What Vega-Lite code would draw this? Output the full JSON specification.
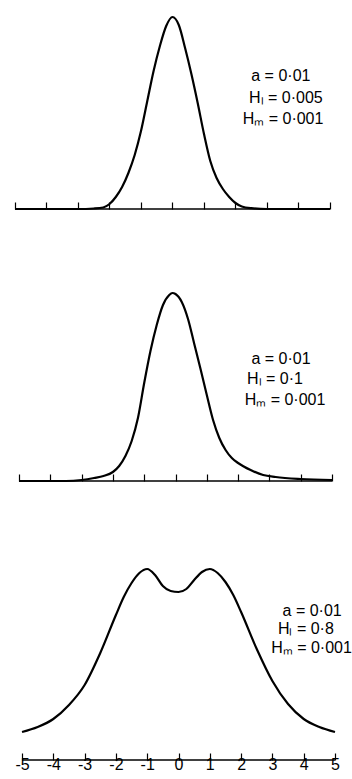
{
  "$schema": "https://vega.github.io/schema/vega-lite/v6.json",
  "padding": {"left": 10, "top": 9, "right": 0, "bottom": 0},
  "background": "white",
  "config": {"view": {"stroke": null}, "axis": {"grid": false}, "font": "Liberation Sans"},
  "spacing": 72,
  "bounds": "flush",
  "datasets": {
    "base": [{"x": -5, "x2": 5, "h": 0}],
    "p1": [
      {"x": -5, "h": 0}, {"x": -4, "h": 0}, {"x": -3, "h": 0}, {"x": -2.5, "h": 0.5}, {"x": -2.2, "h": 1.5},
      {"x": -2, "h": 5}, {"x": -1.8, "h": 12}, {"x": -1.6, "h": 22}, {"x": -1.4, "h": 36}, {"x": -1.2, "h": 54},
      {"x": -1, "h": 78}, {"x": -0.8, "h": 108}, {"x": -0.6, "h": 138}, {"x": -0.4, "h": 163}, {"x": -0.2, "h": 183},
      {"x": 0, "h": 192}, {"x": 0.2, "h": 184}, {"x": 0.4, "h": 161}, {"x": 0.6, "h": 135}, {"x": 0.8, "h": 106},
      {"x": 1, "h": 75}, {"x": 1.2, "h": 48}, {"x": 1.4, "h": 31}, {"x": 1.6, "h": 20}, {"x": 1.8, "h": 12},
      {"x": 2, "h": 6}, {"x": 2.2, "h": 2.5}, {"x": 2.5, "h": 0.8}, {"x": 3, "h": 0}, {"x": 4, "h": 0}, {"x": 5, "h": 0}
    ],
    "p2": [
      {"x": -5, "h": 0}, {"x": -4, "h": 0}, {"x": -3.5, "h": 0}, {"x": -3, "h": 1}, {"x": -2.6, "h": 3},
      {"x": -2.3, "h": 5}, {"x": -2, "h": 9}, {"x": -1.8, "h": 15}, {"x": -1.6, "h": 25}, {"x": -1.4, "h": 40},
      {"x": -1.2, "h": 63}, {"x": -1, "h": 98}, {"x": -0.8, "h": 130}, {"x": -0.6, "h": 156}, {"x": -0.4, "h": 176},
      {"x": -0.2, "h": 186}, {"x": -0.1, "h": 188}, {"x": 0, "h": 187}, {"x": 0.2, "h": 179}, {"x": 0.4, "h": 162},
      {"x": 0.6, "h": 137}, {"x": 0.8, "h": 112}, {"x": 1, "h": 86}, {"x": 1.2, "h": 61}, {"x": 1.4, "h": 43},
      {"x": 1.6, "h": 31}, {"x": 1.8, "h": 23}, {"x": 2, "h": 18}, {"x": 2.4, "h": 11}, {"x": 2.8, "h": 6},
      {"x": 3.2, "h": 4}, {"x": 4, "h": 2}, {"x": 5, "h": 1}
    ],
    "p3": [
      {"x": -5, "h": 28}, {"x": -4.5, "h": 33}, {"x": -4, "h": 41}, {"x": -3.5, "h": 55}, {"x": -3, "h": 75},
      {"x": -2.5, "h": 107}, {"x": -2, "h": 145}, {"x": -1.75, "h": 163}, {"x": -1.5, "h": 177}, {"x": -1.25, "h": 187},
      {"x": -1, "h": 191}, {"x": -0.75, "h": 185}, {"x": -0.5, "h": 174}, {"x": -0.25, "h": 169}, {"x": 0, "h": 168},
      {"x": 0.25, "h": 171}, {"x": 0.5, "h": 180}, {"x": 0.75, "h": 188}, {"x": 1, "h": 191}, {"x": 1.25, "h": 187},
      {"x": 1.5, "h": 178}, {"x": 1.75, "h": 165}, {"x": 2, "h": 148}, {"x": 2.5, "h": 111}, {"x": 3, "h": 79},
      {"x": 3.5, "h": 56}, {"x": 4, "h": 41}, {"x": 4.5, "h": 33}, {"x": 5, "h": 28}
    ],
    "t1": [
      {"x": 3.44, "h": 133, "label": "a = 0·01"},
      {"x": 3.6, "h": 111.5, "label": "Hₗ = 0·005"},
      {"x": 3.51, "h": 90.5, "label": "Hₘ = 0·001"}
    ],
    "t2": [
      {"x": 3.37, "h": 122.5, "label": "a  = 0·01"},
      {"x": 3.18, "h": 102, "label": "Hₗ = 0·1"},
      {"x": 3.5, "h": 81, "label": "Hₘ = 0·001"}
    ],
    "t3": [
      {"x": 4.27, "h": 149, "label": "a = 0·01"},
      {"x": 4.07, "h": 131, "label": "Hₗ = 0·8"},
      {"x": 4.25, "h": 112, "label": "Hₘ = 0·001"}
    ]
  },
  "vconcat": [
    {
      "width": 325,
      "height": 200,
      "layer": [
        {
          "data": {"name": "p1"},
          "mark": {"type": "line", "interpolate": "monotone", "color": "black", "strokeWidth": 2.2},
          "encoding": {
            "x": {"field": "x", "type": "quantitative", "title": null, "scale": {"domain": [-5.063, 5.254], "nice": false, "zero": false},
              "axis": {"values": [-5, -4, -3, -2, -1, 0, 1, 2, 3, 4, 5], "tickCount": 30, "labels": false, "domain": false, "tickSize": -7, "tickColor": "black", "tickWidth": 1.2, "title": null, "grid": false}},
            "y": {"field": "h", "type": "quantitative", "scale": {"domain": [0, 200], "nice": false}, "axis": null}
          }
        },
        {
          "data": {"name": "base"},
          "mark": {"type": "rule", "color": "black", "strokeWidth": 1.5},
          "encoding": {
            "x": {"field": "x", "type": "quantitative", "title": null},
            "x2": {"field": "x2"},
            "y": {"field": "h", "type": "quantitative", "axis": null}
          }
        },
        {
          "data": {"name": "t1"},
          "mark": {"type": "text", "font": "Liberation Sans", "fontSize": 16, "align": "center", "baseline": "middle", "color": "black"},
          "encoding": {
            "x": {"field": "x", "type": "quantitative", "title": null},
            "y": {"field": "h", "type": "quantitative", "axis": null},
            "text": {"field": "label"}
          }
        }
      ]
    },
    {
      "width": 325,
      "height": 200,
      "layer": [
        {
          "data": {"name": "p2"},
          "mark": {"type": "line", "interpolate": "monotone", "color": "black", "strokeWidth": 2.2},
          "encoding": {
            "x": {"field": "x", "type": "quantitative", "title": null, "scale": {"domain": [-5.192, 5.192], "nice": false, "zero": false},
              "axis": {"values": [-5, -4, -3, -2, -1, 0, 1, 2, 3, 4, 5], "tickCount": 30, "labels": false, "domain": false, "tickSize": -7, "tickColor": "black", "tickWidth": 1.2, "title": null, "grid": false}},
            "y": {"field": "h", "type": "quantitative", "scale": {"domain": [0, 200], "nice": false}, "axis": null}
          }
        },
        {
          "data": {"name": "base"},
          "mark": {"type": "rule", "color": "black", "strokeWidth": 1.5},
          "encoding": {
            "x": {"field": "x", "type": "quantitative", "title": null},
            "x2": {"field": "x2"},
            "y": {"field": "h", "type": "quantitative", "axis": null}
          }
        },
        {
          "data": {"name": "t2"},
          "mark": {"type": "text", "font": "Liberation Sans", "fontSize": 16, "align": "center", "baseline": "middle", "color": "black"},
          "encoding": {
            "x": {"field": "x", "type": "quantitative", "title": null},
            "y": {"field": "h", "type": "quantitative", "axis": null},
            "text": {"field": "label"}
          }
        }
      ]
    },
    {
      "width": 325,
      "height": 207,
      "layer": [
        {
          "data": {"name": "p3"},
          "mark": {"type": "line", "interpolate": "monotone", "color": "black", "strokeWidth": 2.2},
          "encoding": {
            "x": {"field": "x", "type": "quantitative", "title": null, "scale": {"domain": [-5.288, 5.096], "nice": false, "zero": false},
              "axis": {"values": [-5, -4, -3, -2, -1, 0, 1, 2, 3, 4, 5], "tickCount": 30, "labels": true, "labelExpr": "'' + datum.value", "labelFont": "Liberation Sans", "labelFontSize": 16, "labelColor": "black", "labelPadding": 3, "labelFlush": false, "labelOverlap": false, "domain": false, "tickSize": -7, "tickColor": "black", "tickWidth": 1.2, "title": null, "grid": false}},
            "y": {"field": "h", "type": "quantitative", "scale": {"domain": [0, 207], "nice": false}, "axis": null}
          }
        },
        {
          "data": {"name": "base"},
          "mark": {"type": "rule", "color": "black", "strokeWidth": 1.5},
          "encoding": {
            "x": {"field": "x", "type": "quantitative", "title": null},
            "x2": {"field": "x2"},
            "y": {"field": "h", "type": "quantitative", "axis": null}
          }
        },
        {
          "data": {"name": "t3"},
          "mark": {"type": "text", "font": "Liberation Sans", "fontSize": 16, "align": "center", "baseline": "middle", "color": "black"},
          "encoding": {
            "x": {"field": "x", "type": "quantitative", "title": null},
            "y": {"field": "h", "type": "quantitative", "axis": null},
            "text": {"field": "label"}
          }
        }
      ]
    }
  ]
}
